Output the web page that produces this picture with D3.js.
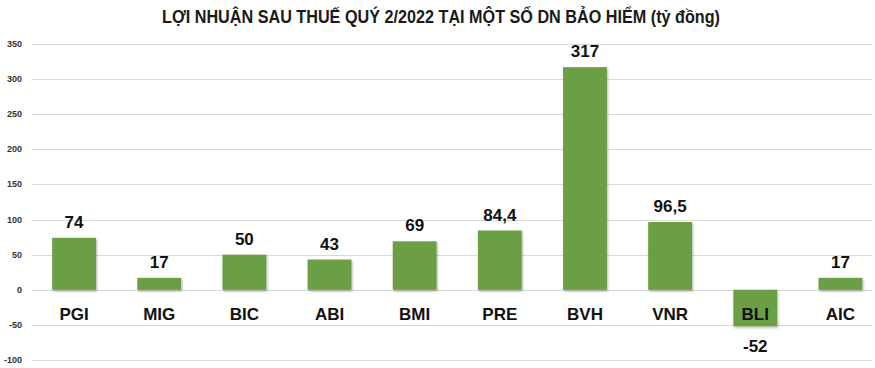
<!DOCTYPE html>
<html>
<head>
<meta charset="utf-8">
<script src="https://cdn.jsdelivr.net/npm/d3@7"></script>
<style>
  body { margin: 0; background: #fff; }
  text { font-family: "Liberation Sans Narrow", "Arial Narrow", "Liberation Sans", sans-serif; }
</style>
</head>
<body>
<div id="chart"></div>
<script>
var companies = ["PGI", "MIG", "BIC", "ABI", "BMI", "PRE", "BVH", "VNR", "BLI", "AIC"],
    profits = [74, 17, 50, 43, 69, 84.4, 317, 96.5, -52, 17],
    labels = ["74", "17", "50", "43", "69", "84,4", "317", "96,5", "-52", "17"],
    ticks = [-100, -50, 0, 50, 100, 150, 200, 250, 300, 350];

var width = 875, height = 368,
    margin = { top: 44, right: -8, bottom: 8, left: 31.5 };

var svg = d3.select("#chart").append("svg")
    .attr("width", width)
    .attr("height", height);

var defs = svg.append("defs");
var shadow = defs.append("filter").attr("id", "shadow")
    .attr("x", "-20%").attr("y", "-20%").attr("width", "140%").attr("height", "140%");
shadow.append("feDropShadow")
    .attr("dx", 1).attr("dy", 1.5).attr("stdDeviation", 1.2)
    .attr("flood-color", "#000").attr("flood-opacity", 0.3);

var x = d3.scaleBand()
    .domain(companies)
    .range([margin.left, width - margin.right])
    .paddingInner(0.485)
    .paddingOuter(0.2425);

var y = d3.scaleLinear()
    .domain([-100, 350])
    .range([height - margin.bottom, margin.top]);

// title
svg.append("text")
    .attr("x", 441)
    .attr("y", 23)
    .attr("text-anchor", "middle")
    .attr("textLength", 558)
    .attr("lengthAdjust", "spacingAndGlyphs")
    .style("font-size", "18px")
    .style("font-weight", "bold")
    .style("fill", "#1a1a1a")
    .text("LỢI NHUẬN SAU THUẾ QUÝ 2/2022 TẠI MỘT SỐ DN BẢO HIỂM (tỷ đồng)");

// grid lines
svg.append("g").selectAll("line")
    .data(ticks)
    .enter().append("line")
    .attr("x1", 32)
    .attr("x2", 872)
    .attr("y1", function(d) { return Math.round(y(d)) + 0.5; })
    .attr("y2", function(d) { return Math.round(y(d)) + 0.5; })
    .style("stroke", "#d9d9d9")
    .style("stroke-width", 1);

// y tick labels
svg.append("g").selectAll("text")
    .data(ticks)
    .enter().append("text")
    .attr("x", 22)
    .attr("y", function(d) { return y(d) + 3; })
    .attr("text-anchor", "end")
    .style("font-size", "9px")
    .style("font-weight", "bold")
    .style("fill", "#333")
    .text(function(d) { return d; });

// bars
svg.append("g").selectAll("rect")
    .data(companies)
    .enter().append("rect")
    .attr("x", function(d) { return x(d); })
    .attr("width", x.bandwidth())
    .attr("y", function(d, i) { return y(Math.max(0, profits[i])); })
    .attr("height", function(d, i) { return Math.abs(y(profits[i]) - y(0)); })
    .style("fill", "#6a9f44")
    .attr("filter", "url(#shadow)");

// category labels
svg.append("g").selectAll("text")
    .data(companies)
    .enter().append("text")
    .attr("x", function(d) { return x(d) + x.bandwidth() / 2; })
    .attr("y", y(0) + 30)
    .attr("text-anchor", "middle")
    .style("font-size", "17px")
    .style("font-weight", "bold")
    .style("fill", "#111")
    .text(function(d) { return d; });

// value labels
svg.append("g").selectAll("text")
    .data(companies)
    .enter().append("text")
    .attr("x", function(d) { return x(d) + x.bandwidth() / 2; })
    .attr("y", function(d, i) {
        return profits[i] >= 0 ? y(profits[i]) - 10 : y(profits[i]) + 26;
    })
    .attr("text-anchor", "middle")
    .style("font-size", "17px")
    .style("font-weight", "bold")
    .style("fill", "#111")
    .text(function(d, i) { return labels[i]; });
</script>
</body>
</html>
